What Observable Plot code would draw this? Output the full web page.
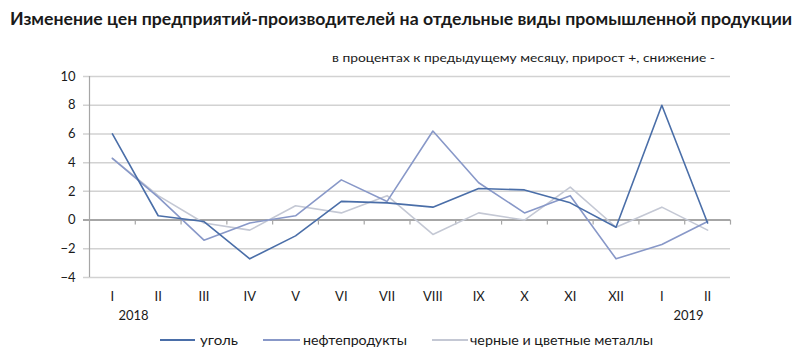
<!DOCTYPE html>
<html><head><meta charset="utf-8">
<script src="https://cdn.jsdelivr.net/npm/d3@7"></script>
<script src="https://cdn.jsdelivr.net/npm/@observablehq/plot@0.6"></script>
<style>
html,body{margin:0;padding:0;background:#fff;}
#wrap{position:relative;width:800px;height:364px;overflow:hidden;font-family:Lato,"Open Sans",sans-serif;color:#1a1a1a;}
.t{position:absolute;white-space:nowrap;transform-origin:0 50%;z-index:2;}
#chart{position:absolute;left:0;top:60px;z-index:1;}
.sw{position:absolute;height:2px;}
</style></head><body>
<div id="wrap">
  <div id="title" class="t" style="left:10px;top:10px;font-size:16.5px;line-height:18px;font-weight:bold;">Изменение цен предприятий-производителей на отдельные виды промышленной продукции</div>
  <div id="sub" class="t" style="left:332px;top:51px;font-size:12px;line-height:14px;">в процентах к предыдущему месяцу, прирост +, снижение -</div>
  <div id="chart"></div>
  <div id="legend"></div>
</div>
<script>
const months = ["I","II","III","IV","V","VI","VII","VIII","IX","X","XI","XII","I","II"];
const years = ["2018","2019"];
const yearIndex = [0, 13];
const yTicks = [-4,-2,0,2,4,6,8,10];
const series = ["уголь","нефтепродукты","черные и цветные металлы"];
const coal   = [6.0, 0.3, -0.1, -2.7, -1.1, 1.3, 1.2, 0.9, 2.2, 2.1, 1.2, -0.5, 8.0, -0.2];
const oil    = [4.3, 1.6, -1.4, -0.2, 0.3, 2.8, 1.3, 6.2, 2.6, 0.5, 1.7, -2.7, -1.7, -0.1];
const metals = [4.3, 1.7, -0.2, -0.7, 1.0, 0.5, 1.7, -1.0, 0.5, 0.0, 2.3, -0.5, 0.9, -0.7];
const colors = ["#4a6ea8", "#8898c8", "#c4c8d4"];

const values = [coal, oil, metals];
const data = [2,1,0].flatMap(s => values[s].map((v,i) => ({i, v, s: series[s]})));
const bounds = d3.range(months.length).map(i => i + 0.5);

const chart = Plot.plot({
  width: 800, height: 270,
  marginTop: 16, marginBottom: 53, marginLeft: 89, marginRight: 70,
  style: {fontFamily: 'Lato,"Open Sans",sans-serif', fontSize: "13px", color: "#1a1a1a", background: "transparent"},
  x: {domain: [-0.5, months.length - 0.5], axis: null},
  y: {domain: [-4, 10], axis: null},
  color: {domain: series, range: colors},
  marks: [
    Plot.ruleY(yTicks.filter(d => d !== 0), {stroke: "#d2d2d2", strokeWidth: 1.5, insetLeft: -6}),
    Plot.ruleX([-0.5], {y1: -4, y2: 10, stroke: "#a6a6a6", strokeWidth: 1.2}),
    Plot.ruleY([0], {stroke: "#a6a6a6", strokeWidth: 2, insetLeft: -6}),
    Plot.ruleX(bounds, {y1: 0, y2: 0, insetBottom: -5, stroke: "#a6a6a6", strokeWidth: 1.2}),
    Plot.axisY(yTicks, {tickSize: 0, tickPadding: 14, label: null, fill: "#1a1a1a"}),
    Plot.axisX(d3.range(months.length), {tickSize: 0, tickPadding: 14, tickFormat: i => months[i], label: null, fill: "#1a1a1a"}),
    Plot.text([years[0]], {x: [yearIndex[0]], frameAnchor: "bottom", dy: 42, dx: 6, textAnchor: "start", fill: "#1a1a1a"}),
    Plot.text([years[1]], {x: [yearIndex[1]], frameAnchor: "bottom", dy: 42, dx: -4, textAnchor: "end", fill: "#1a1a1a"}),
    Plot.line(data, {x: "i", y: "v", z: "s", stroke: "s", strokeWidth: 1.6})
  ]
});
document.getElementById("chart").appendChild(chart);

// legend
const legend = document.getElementById("legend");
const swX = [160, 263, 432], swW = [35, 37, 36], txX = [200, 303, 470], txW = [38, 104, 183];
series.forEach((s, k) => {
  const sw = document.createElement("div");
  sw.className = "sw";
  sw.style.cssText = `left:${swX[k]}px;top:339px;width:${swW[k]}px;background:${colors[k]}`;
  legend.appendChild(sw);
  const t = document.createElement("div");
  t.className = "t legt";
  t.dataset.w = txW[k];
  t.style.cssText = `left:${txX[k]}px;top:332px;font-size:13px;line-height:16px;`;
  t.textContent = s;
  legend.appendChild(t);
});

function fit(el, w) {
  const r = el.getBoundingClientRect().width;
  if (r > 0) el.style.transform = `scaleX(${w / r})`;
}
fit(document.getElementById("title"), 782);
fit(document.getElementById("sub"), 383);
document.querySelectorAll(".legt").forEach(el => fit(el, +el.dataset.w));
</script>
</body></html>
